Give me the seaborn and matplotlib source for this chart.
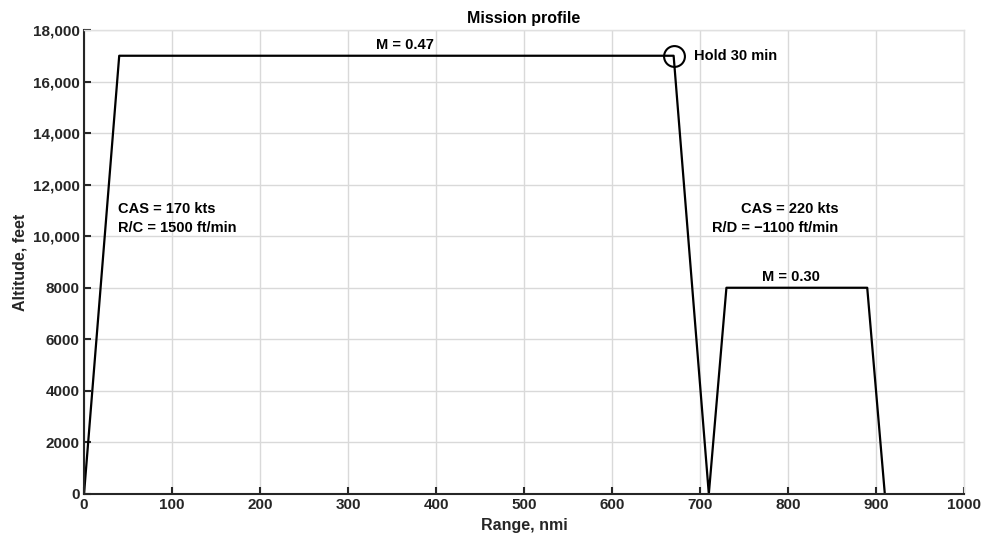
import numpy as np
import pandas as pd
from matplotlib import pyplot as plt
import seaborn as sns

# mission profile waypoints (range in nmi, altitude in ft)
range_nmi = [0, 40, 670, 710, 730, 890, 910]
altitude_ft = [0, 17000, 17000, 0, 8000, 8000, 0]
hold_point = (670, 17000)

x_ticks = [0, 100, 200, 300, 400, 500, 600, 700, 800, 900, 1000]
y_ticks = [0, 2000, 4000, 6000, 8000, 10000, 12000, 14000, 16000, 18000]
y_tick_labels = ['0', '2000', '4000', '6000', '8000', '10,000', '12,000', '14,000', '16,000', '18,000']

df = pd.DataFrame({'Range, nmi': range_nmi, 'Altitude, feet': altitude_ft})

sns.set_style('whitegrid')
plt.rcParams['font.family'] = ['Liberation Sans', 'DejaVu Sans']
plt.rcParams['font.weight'] = 'bold'
plt.rcParams['text.color'] = 'k'
plt.rcParams['axes.labelcolor'] = 'k'

fig = plt.figure(figsize=(9.92, 5.4), dpi=100)
ax = fig.add_axes([0.0847, 0.0852, 0.8871, 0.8593])

sns.lineplot(data=df, x='Range, nmi', y='Altitude, feet', sort=False, color='k', lw=1.6, ax=ax)
ax.plot(*hold_point, marker='o', ms=15, mfc='none', mec='k', mew=1.5)

txt = dict(fontsize=10.5, fontweight='bold', color='k')
ax.text(365, 17400, 'M = 0.47', ha='center', va='center', **txt)
ax.text(693, 17000, 'Hold 30 min', ha='left', va='center', **txt)
ax.text(39, 11050, 'CAS = 170 kts', ha='left', va='center', **txt)
ax.text(39, 10300, 'R/C = 1500 ft/min', ha='left', va='center', **txt)
ax.text(857, 11050, 'CAS = 220 kts', ha='right', va='center', **txt)
ax.text(857, 10300, 'R/D = \u22121100 ft/min', ha='right', va='center', **txt)
ax.text(803, 8420, 'M = 0.30', ha='center', va='center', **txt)

ax.set_xlim(0, 1000)
ax.set_ylim(0, 18000)
ax.set_xticks(x_ticks)
ax.set_yticks(y_ticks)
ax.set_yticklabels(y_tick_labels)
ax.tick_params(bottom=True, left=True, direction='in', length=5, width=1.5,
               color='#262626', labelcolor='#262626', labelsize=11, pad=3)
for lbl in ax.get_xticklabels() + ax.get_yticklabels():
    lbl.set_fontweight('bold')
ax.grid(True, color='#d9d9d9', lw=1)
for side in ['left', 'bottom']:
    ax.spines[side].set_color('#262626')
    ax.spines[side].set_linewidth(1.5)
for side in ['top', 'right']:
    ax.spines[side].set_color('#e0e0e0')
    ax.spines[side].set_linewidth(1)
ax.set_xlabel('Range, nmi', fontsize=11.5, fontweight='bold', color='#262626')
ax.set_ylabel('Altitude, feet', fontsize=11.5, fontweight='bold', color='#262626')
ax.set_title('Mission profile', fontsize=11.5, fontweight='bold', color='k', pad=5)

fig.savefig('out.png', dpi=100)
plt.close('all')
